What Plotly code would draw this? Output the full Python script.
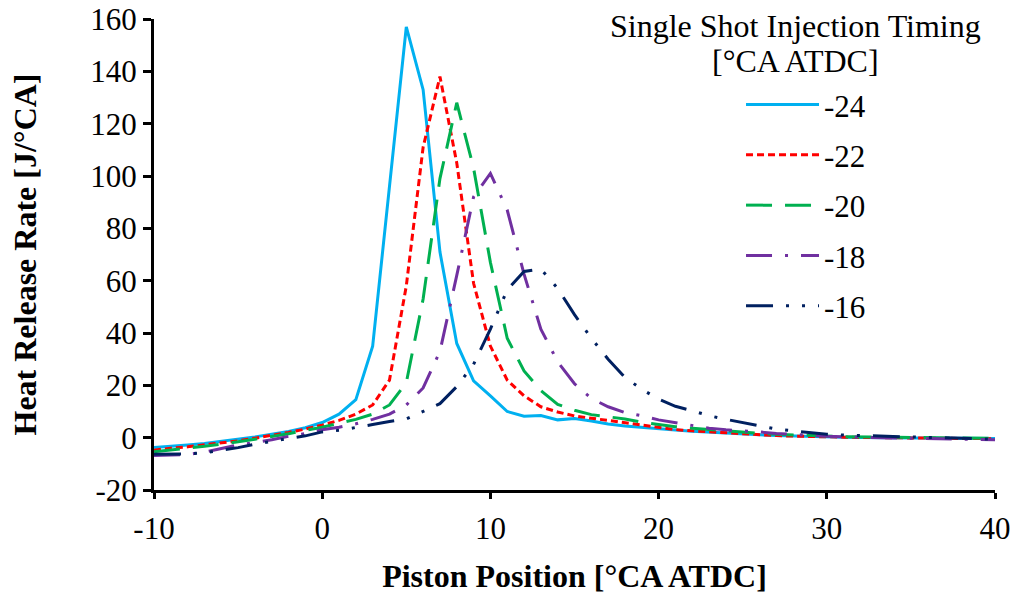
import plotly.graph_objects as go

# Crank angle [°CA ATDC]
ca = list(range(-10, 41))

# Heat release rate [J/°CA] per injection timing
hrr_m24 = [-3.8, -3.4, -2.8, -2.2, -1.4, -0.6, 0.3, 1.3, 2.4, 3.8,
           5.8, 9.0, 14.5, 35.0, 96.0, 157.0, 133.0, 71.0, 36.0, 21.7,
           16.0, 10.0, 8.2, 8.5, 6.8, 7.3, 6.4, 5.2, 4.5, 3.9,
           3.3, 2.9, 2.5, 2.1, 1.8, 1.4, 1.1, 0.8, 0.6, 0.4,
           0.3, 0.2, 0.1, 0.0, 0.0, -0.1, -0.1, -0.2, -0.2, -0.3, -0.3]
hrr_m22 = [-4.8, -4.0, -3.5, -2.8, -2.0, -1.2, -0.2, 0.8, 2.0, 3.3,
           4.8, 6.6, 9.0, 12.5, 22.0, 58.0, 111.0, 138.0, 105.0, 59.0,
           35.0, 22.0, 16.0, 11.8, 9.8, 8.3, 7.4, 6.5, 5.6, 4.7,
           4.0, 3.1, 2.6, 2.2, 1.8, 1.4, 1.1, 0.8, 0.6, 0.4,
           0.3, 0.2, 0.1, 0.0, -0.1, -0.1, -0.2, -0.2, -0.3, -0.3, -0.4]
hrr_m20 = [-5.4, -4.8, -4.0, -3.3, -2.5, -1.6, -0.6, 0.4, 1.5, 2.8,
           4.0, 5.5, 7.0, 9.0, 12.5, 21.0, 53.0, 99.0, 128.0, 103.0,
           67.0, 38.0, 25.5, 18.0, 12.7, 10.5, 8.8, 8.0, 7.1, 5.9,
           5.0, 4.2, 3.6, 3.1, 2.5, 2.1, 1.6, 1.3, 1.0, 0.8,
           0.6, 0.4, 0.3, 0.2, 0.1, 0.0, -0.1, -0.1, -0.2, -0.3, -0.3]
hrr_m18 = [-6.8, -6.7, -6.4, -5.5, -4.2, -2.8, -1.8, -0.8, 0.5, 1.6,
           3.0, 4.0, 5.3, 7.0, 9.0, 12.5, 19.0, 33.0, 62.0, 92.0,
           101.0, 87.0, 62.5, 41.5, 29.0, 20.6, 15.0, 11.8, 9.6, 8.4,
           6.8, 5.8, 4.6, 3.6, 3.0, 2.7, 2.2, 1.6, 1.2, 0.9,
           0.5, 0.3, 0.1, 0.0, -0.1, -0.2, -0.3, -0.4, -0.5, -0.7, -0.8]
hrr_m16 = [-6.3, -6.3, -6.2, -5.8, -4.8, -3.8, -2.5, -1.3, -0.3, 0.7,
           2.2, 2.8, 3.8, 5.0, 6.2, 7.2, 10.0, 13.0, 19.5, 28.0,
           41.5, 56.5, 63.5, 64.5, 57.0, 47.0, 38.0, 30.0, 23.0, 18.5,
           14.7, 12.0, 10.3, 8.4, 7.0, 5.8, 4.5, 3.3, 2.6, 1.9,
           1.3, 1.0, 0.8, 0.5, 0.3, 0.2, 0.1, 0.0, -0.2, -0.4, -0.6]

series_names = ["-24", "-22", "-20", "-18", "-16"]
series_vals = [hrr_m24, hrr_m22, hrr_m20, hrr_m18, hrr_m16]

x_tickvals = [-10, 0, 10, 20, 30, 40]
x_ticktext = ["-10", "0", "10", "20", "30", "40"]
y_tickvals = [-20, 0, 20, 40, 60, 80, 100, 120, 140, 160]
y_ticktext = ["-20", "0", "20", "40", "60", "80", "100", "120", "140", "160"]

legend_title_lines = ["Single Shot Injection Timing", "[°CA ATDC]"]

colors = ["#00B0F0", "#FF0000", "#00B050", "#7030A0", "#002060"]
dashes = ["solid", "7px,4px", "26px,13px", "26px,13px,3px,13px",
          "27px,13px,3px,13px,3px,13px"]

fig = go.Figure()
for i, (name, vals) in enumerate(zip(series_names, series_vals)):
    fig.add_trace(go.Scatter(
        x=ca, y=vals, mode="lines", name=name, legendgroup=name,
        line=dict(color=colors[i], width=3, dash=dashes[i]),
    ))

font_family = "Liberation Serif"
title_font = dict(family=font_family, size=32, color="black")
fig.update_layout(
    width=1015, height=594,
    margin=dict(l=154, r=20, t=19, b=104, autoexpand=False),
    paper_bgcolor="white", plot_bgcolor="white",
    font=dict(family=font_family, size=31, color="black"),
    showlegend=True,
    legend=dict(
        x=0.698, y=0.875, xanchor="left", yanchor="top",
        bgcolor="rgba(0,0,0,0)",
        font=dict(family=font_family, size=31, color="black"),
        tracegroupgap=7,
        itemwidth=73,
    ),
    annotations=[
        dict(text=legend_title_lines[0], xref="paper", yref="paper",
             x=0.763, y=0.985, xanchor="center", yanchor="middle",
             showarrow=False, font=title_font),
        dict(text=legend_title_lines[1], xref="paper", yref="paper",
             x=0.763, y=0.911, xanchor="center", yanchor="middle",
             showarrow=False, font=title_font),
    ],
    xaxis=dict(
        range=[-10, 40], tickvals=x_tickvals, ticktext=x_ticktext,
        showgrid=False, zeroline=False,
        showline=True, linecolor="black", linewidth=3,
        ticks="outside", ticklen=6, tickwidth=3, tickcolor="black",
        ticklabelstandoff=3, ticklabeloverflow="allow",
        tickfont=dict(family=font_family, size=31, color="black"),
        title=dict(text="<b>Piston Position [°CA ATDC]</b>",
                   font=dict(family=font_family, size=32, color="black"),
                   standoff=24),
    ),
    yaxis=dict(
        range=[-20, 160], tickvals=y_tickvals, ticktext=y_ticktext,
        showgrid=False, zeroline=False,
        showline=True, linecolor="black", linewidth=3,
        ticks="outside", ticklen=8, tickwidth=3, tickcolor="black",
        ticklabeloverflow="allow",
        tickfont=dict(family=font_family, size=31, color="black"),
        title=dict(text="<b>Heat Release Rate [J/°CA]</b>",
                   font=dict(family=font_family, size=32, color="black"),
                   standoff=45),
    ),
)

fig.write_html(
    "out.html",
    config={"displayModeBar": False},
    post_script="document.body.style.margin='0';"
                "document.body.style.overflow='hidden';",
)
